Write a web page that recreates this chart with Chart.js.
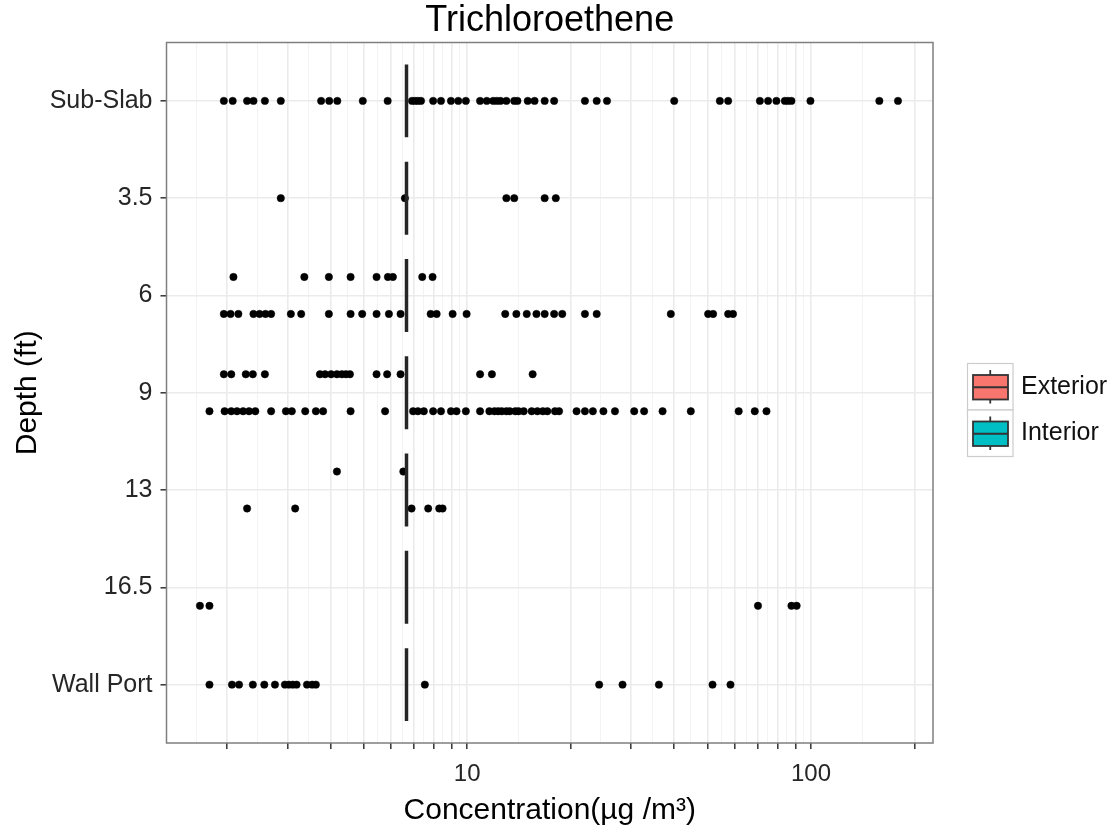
<!DOCTYPE html>
<html>
<head>
<meta charset="utf-8">
<script src="https://cdn.jsdelivr.net/npm/chart.js@4/dist/chart.umd.min.js"></script>
<style>
html,body{margin:0;padding:0;background:#fff;}
canvas{display:block;}
</style>
</head>
<body>
<canvas id="c" width="1114" height="836"></canvas>
<script>
// ---------- data ----------
const titleText = 'Trichloroethene';
const xTitle = 'Concentration(µg /m³)';
const yTitle = 'Depth (ft)';
const depths = ['Sub-Slab', '3.5', '6', '9', '13', '16.5', 'Wall Port'];
const groups = ['Exterior', 'Interior'];
const groupColors = ['#F8766D', '#00BFC4'];
const xBreaks = [2, 3, 4, 5, 6, 7, 8, 9, 10, 20, 30, 40, 50, 60, 70, 80, 90, 100, 200];
const xBreakLabels = ['', '', '', '', '', '', '', '', '10', '', '', '', '', '', '', '', '', '100', ''];
const xLimits = [1.335, 226.3];
const boxMedian = [6.66, 6.66, 6.66, 6.66, 6.66, 6.66, 6.66];

const subSlab = [1.96, 2.08, 2.29, 2.39, 2.58, 2.87, 3.76, 3.97, 4.19, 4.97, 5.87, 6.91, 7.05, 7.19, 7.34, 7.96, 8.39, 8.97, 9.42, 9.91, 10.9, 11.4, 11.9, 12.2, 12.5, 13.0, 13.7, 14.0, 15.0, 15.7, 16.8, 17.9, 22.0, 23.8, 25.5, 40.0, 54.3, 57.4, 71.0, 75.0, 79.3, 83.9, 85.7, 87.7, 99.6, 158, 179];
const d3_5 = [2.87, 6.59, 13.0, 13.7, 16.8, 18.1];
const d6Interior = [2.09, 3.36, 3.96, 4.58, 5.45, 5.88, 6.08, 7.40, 7.93];
const d6Exterior = [1.96, 2.05, 2.16, 2.39, 2.49, 2.59, 2.69, 3.07, 3.29, 3.96, 4.58, 4.95, 5.45, 5.92, 6.40, 7.83, 8.15, 9.07, 9.96, 12.9, 13.9, 14.9, 15.9, 16.8, 17.9, 18.9, 22.0, 23.8, 39.1, 50.2, 51.9, 57.4, 59.3];
const d9Interior = [1.96, 2.06, 2.27, 2.38, 2.58, 3.73, 3.86, 4.02, 4.18, 4.32, 4.44, 4.56, 5.45, 5.85, 6.40, 10.9, 11.8, 15.5];
const d9Exterior = [1.78, 1.97, 2.06, 2.14, 2.23, 2.32, 2.42, 2.69, 2.97, 3.09, 3.38, 3.63, 3.81, 4.58, 5.77, 6.96, 7.19, 7.48, 7.96, 8.39, 8.97, 9.31, 9.91, 10.9, 11.6, 12.0, 12.3, 12.6, 13.0, 13.3, 13.8, 14.1, 14.6, 15.4, 16.0, 16.6, 17.1, 18.0, 18.5, 20.8, 22.0, 23.2, 24.9, 26.9, 30.6, 32.7, 37.0, 44.7, 61.6, 68.6, 74.2];
const d13Interior = [4.18, 6.52];
const d13Exterior = [2.29, 3.16, 6.89, 7.70, 8.29, 8.48];
const d16_5Exterior = [1.67, 1.78, 70.1, 87.7, 90.8];
const wallPort = [1.78, 2.07, 2.17, 2.38, 2.57, 2.76, 2.95, 3.03, 3.11, 3.19, 3.42, 3.54, 3.63, 7.53, 24.2, 28.3, 36.1, 51.7, 58.3];

// rows: depth index + dodge side (-1 upper, 0 centre, +1 lower)
const rows = [
  {depth: 0, side: 0, values: subSlab},
  {depth: 1, side: 0, values: d3_5},
  {depth: 2, side: -1, values: d6Interior},
  {depth: 2, side: 1, values: d6Exterior},
  {depth: 3, side: -1, values: d9Interior},
  {depth: 3, side: 1, values: d9Exterior},
  {depth: 4, side: -1, values: d13Interior},
  {depth: 4, side: 1, values: d13Exterior},
  {depth: 5, side: 1, values: d16_5Exterior},
  {depth: 6, side: 0, values: wallPort}
];

// ---------- chart ----------
const FONT = '"Liberation Sans", Arial, sans-serif';
const DODGE = 0.19;
const BOXHALF = 0.375;

const minorBreaks = (() => {
  const lb = xBreaks.map(Math.log10);
  const step = lb[1] - lb[0];
  const all = [lb[0] - step, ...lb];
  const out = [];
  for (let i = 0; i < all.length - 1; i++) out.push(Math.pow(10, (all[i] + all[i + 1]) / 2));
  return out.filter(v => v > xLimits[0] && v < xLimits[1]);
})();

const pointData = rows.flatMap(r => r.values.map(v => ({x: v, y: r.depth + r.side * DODGE})));

const datasets = [{
  type: 'scatter',
  label: 'points',
  data: pointData,
  backgroundColor: '#000',
  borderColor: '#000',
  borderWidth: 0.5,
  pointRadius: 3.7,
  order: 2
}];
depths.forEach((d, i) => {
  datasets.push({
    type: 'line',
    label: 'box ' + d,
    data: [{x: boxMedian[i], y: i - BOXHALF}, {x: boxMedian[i], y: i + BOXHALF}],
    borderColor: '#262626',
    borderWidth: 3.5,
    pointRadius: 0,
    fill: false,
    order: 1
  });
});

const decor = {
  id: 'decor',
  afterDraw(chart) {
    const {ctx, chartArea: a} = chart;
    ctx.save();
    ctx.strokeStyle = '#7F7F7F';
    ctx.lineWidth = 1.5;
    ctx.strokeRect(a.left, a.top, a.right - a.left, a.bottom - a.top);
    // legend
    const lx = 967.5, ly = 363.5, kw = 45.5, kh = 46.5;
    groups.forEach((g, i) => {
      const y0 = ly + i * kh;
      ctx.fillStyle = '#fff';
      ctx.fillRect(lx, y0, kw, kh);
      ctx.strokeStyle = '#CCCCCC';
      ctx.lineWidth = 1.2;
      ctx.strokeRect(lx, y0, kw, kh);
      const cx = lx + kw / 2;
      ctx.strokeStyle = '#333333';
      ctx.lineWidth = 1.8;
      ctx.beginPath();
      ctx.moveTo(cx, y0 + 6.5);
      ctx.lineTo(cx, y0 + 40);
      ctx.stroke();
      const bx = lx + 5.5, bw = 35, by = y0 + 11.5, bh = 24.5;
      ctx.fillStyle = groupColors[i];
      ctx.fillRect(bx, by, bw, bh);
      ctx.strokeRect(bx, by, bw, bh);
      ctx.beginPath();
      ctx.moveTo(bx, by + bh / 2);
      ctx.lineTo(bx + bw, by + bh / 2);
      ctx.stroke();
      ctx.fillStyle = '#111';
      ctx.font = '25px ' + FONT;
      ctx.textBaseline = 'middle';
      ctx.textAlign = 'left';
      ctx.fillText(g, 1021, y0 + kh / 2);
    });
    ctx.restore();
  }
};

new Chart(document.getElementById('c'), {
  type: 'scatter',
  data: {datasets},
  plugins: [decor],
  options: {
    responsive: false,
    animation: false,
    devicePixelRatio: 1,
    layout: {padding: {left: 0, right: 181, top: 0, bottom: 0}},
    plugins: {
      legend: {display: false},
      tooltip: {enabled: false},
      title: {
        display: true,
        text: titleText,
        fullSize: false,
        color: '#000',
        font: {family: FONT, size: 36, weight: 'normal', lineHeight: 0.95},
        padding: {top: 3.5, bottom: 4.8}
      }
    },
    scales: {
      x: {
        type: 'logarithmic',
        position: 'bottom',
        min: xLimits[0],
        max: xLimits[1],
        bounds: 'data',
        afterBuildTicks: s => { s.ticks = xBreaks.map(v => ({value: v})); },
        afterFit: s => { s.height = 93; },
        grid: {color: '#EBEBEB', lineWidth: 1.6, drawTicks: true, tickLength: 6, tickColor: '#333333', tickWidth: 1.5},
        border: {display: false},
        ticks: {
          autoSkip: false, maxRotation: 0, minRotation: 0, padding: 11,
          color: '#262626', font: {family: FONT, size: 24},
          callback: (v, i) => xBreakLabels[i]
        },
        title: {display: true, text: xTitle, color: '#000', font: {family: FONT, size: 30}, padding: {top: 0, bottom: 7.5}}
      },
      xMinor: {
        type: 'logarithmic',
        position: 'top',
        min: xLimits[0],
        max: xLimits[1],
        bounds: 'data',
        afterBuildTicks: s => { s.ticks = minorBreaks.map(v => ({value: v})); },
        afterFit: s => { s.height = 0; },
        grid: {color: '#F3F3F3', lineWidth: 1, drawTicks: false},
        border: {display: false},
        ticks: {display: false}
      },
      y: {
        type: 'linear',
        reverse: true,
        min: -0.6,
        max: 6.6,
        bounds: 'data',
        afterBuildTicks: s => { s.ticks = depths.map((d, i) => ({value: i})); },
        afterFit: s => { s.width = 166.5; },
        grid: {color: '#EBEBEB', lineWidth: 1.6, drawTicks: true, tickLength: 6, tickColor: '#333333', tickWidth: 1.5},
        border: {display: false},
        ticks: {
          autoSkip: false, padding: 8,
          color: '#262626', font: {family: FONT, size: 25},
          callback: v => depths[v]
        },
        title: {display: true, text: yTitle, color: '#000', font: {family: FONT, size: 30}, padding: {top: 9.5, bottom: 0}}
      }
    }
  }
});
</script>
</body>
</html>
